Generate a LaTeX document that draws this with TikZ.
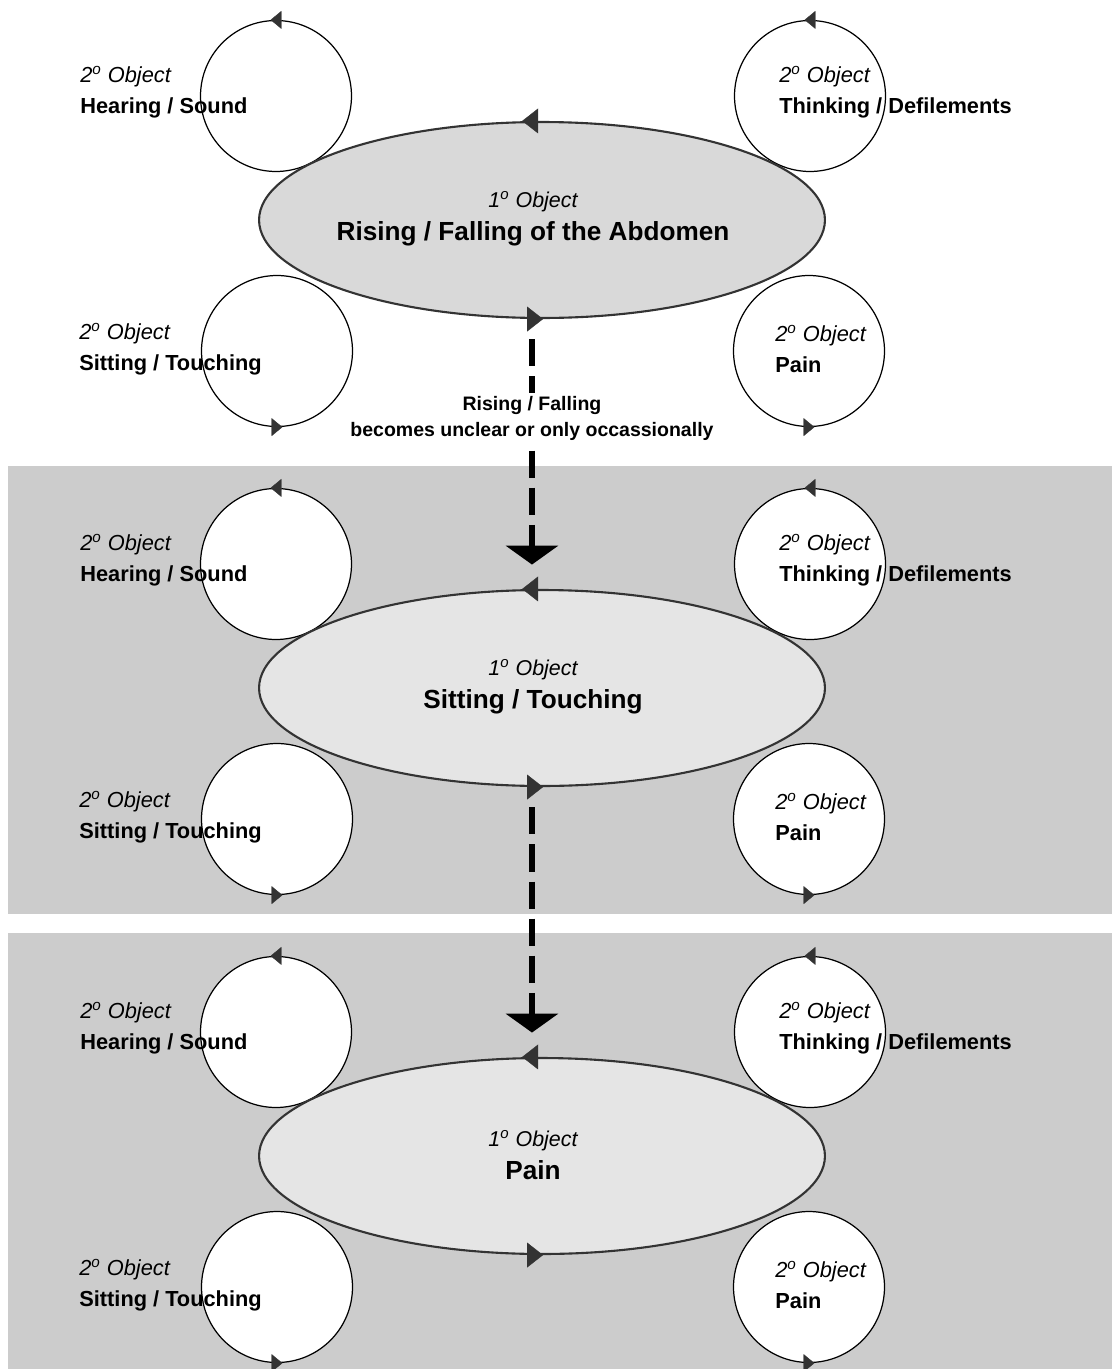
\documentclass[tikz,border=0pt]{standalone}
\usepackage{fontspec}
\setmainfont{Liberation Sans}
\usetikzlibrary{arrows.meta, shapes.geometric}
\newcommand\objlabel[1]{\textit{2\textsuperscript{o} Object}\\\textbf{#1}}

\begin{document}
\begin{tikzpicture}[x=0.02cm, y=-0.02cm,
		panelbg/.style={fill=black!20},
		orbitc/.style={circle, draw=black, line width=0.7pt, fill=white, minimum size=3.02cm, inner sep=0pt},
		focusell/.style={ellipse, draw=black!80, line width=1.2pt, minimum width=11.32cm, minimum height=3.92cm, inner sep=0pt},
		objtext/.style={align=left, inner sep=0pt, anchor=west, font=\fontsize{12.4}{17.6}\selectfont},
		maintext/.style={align=center, inner sep=0pt, font=\fontsize{14.9}{18.8}\selectfont},
		ctip/.style={-{Triangle[length=6.2pt, width=10.2pt]}, draw=black!80, fill=black!80, line width=0.2pt},
		etip/.style={-{Triangle[length=9.1pt, width=14.2pt]}, draw=black!80, fill=black!80, line width=0.2pt},
		movearrow/.style={-{Triangle[length=10.8pt, width=29.6pt]}, line width=3.4pt, dash pattern=on 15.4pt off 5.7pt, shorten <=11.6pt, shorten >=13.9pt},
		movenote/.style={fill=white, align=center, inner sep=2pt, font=\fontsize{11.1}{14.8}\selectfont\bfseries}]
		\useasboundingbox (0, 0) rectangle (1112, 1369);
		\fill[panelbg] (8, 466) rectangle (1112, 914);
		\fill[panelbg] (8, 933) rectangle (1112, 1369);
		\foreach \i/\dy/\shade/\main in {1/0/15/{Rising / Falling of the Abdomen}, 2/468/10/{Sitting / Touching}, 3/936/10/Pain}{
			\node (tl\i)at (276, 96+\dy)[orbitc] {};
			\node (tr\i)at (810, 96+\dy)[orbitc] {};
			\node (bl\i)at (277, 351+\dy)[orbitc] {};
			\node (br\i)at (809, 351+\dy)[orbitc] {};
			\node (e\i)at (542, 220+\dy)[focusell, fill=black!\shade] {};
			\node (m\i)at (533, 219+\dy)[maintext] {{\fontsize{12.2}{14}\selectfont\itshape 1\textsuperscript{o} Object}\\\textbf{\main}};
			\node (htl\i)at (80, 92+\dy)[objtext] {\objlabel{Hearing / Sound}};
			\node (htr\i)at (779, 92+\dy)[objtext] {\objlabel{Thinking / Defilements}};
			\node (hbl\i)at (79, 349+\dy)[objtext] {\objlabel{Sitting / Touching}};
			\node (hbr\i)at (775, 349+\dy)[objtext] {\objlabel{Pain}};
			\draw[ctip] ([xshift=3.1pt]tl\i.north) -- ([xshift=-3.1pt]tl\i.north);
			\draw[ctip] ([xshift=3.1pt]tr\i.north) -- ([xshift=-3.1pt]tr\i.north);
			\draw[ctip] ([xshift=-3.1pt]bl\i.south) -- ([xshift=3.1pt]bl\i.south);
			\draw[ctip] ([xshift=-3.1pt]br\i.south) -- ([xshift=3.1pt]br\i.south);
			\draw[etip] ([xshift=-2.2pt]e\i.north) -- ([xshift=-11.3pt]e\i.north);
			\draw[etip] ([xshift=-8.5pt]e\i.south) -- ([xshift=0.6pt]e\i.south);
		}
		\draw[movearrow] ([xshift=-5.7pt]e1.south) -- node[movenote, pos=0.37] {Rising / Falling\\becomes unclear or only occassionally} ([xshift=-5.7pt]e2.north);
		\draw[movearrow] ([xshift=-5.7pt]e2.south) -- ([xshift=-5.7pt]e3.north);
	\end{tikzpicture}
\end{document}
